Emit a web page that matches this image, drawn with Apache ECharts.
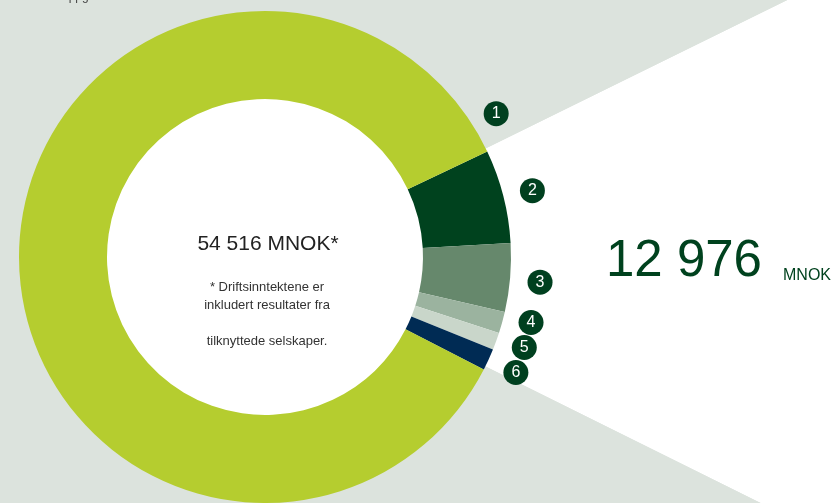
<!DOCTYPE html>
<html><head><meta charset="utf-8">
<script src="https://cdn.jsdelivr.net/npm/echarts@6/dist/echarts.min.js"></script>
<style>html,body{margin:0;padding:0;background:#dce3dd;overflow:hidden}#c{width:837px;height:503px}</style>
</head><body><div id="c"></div>
<script>
// Data (values in MNOK, estimated from the drawn angles)
const segmentNumbers = ['2', '3', '4', '5', '6', '1'];
const segmentValues = [3350, 2450, 770, 620, 775, 46550];
const segmentColors = ['#00421e', '#66886c', '#9bb39f', '#c9d6ca', '#002b54', '#b5cd2f'];
const totalLabel = '54 516 MNOK*';
const noteLines = ['* Driftsinntektene er', 'inkludert resultater fra', '', 'tilknyttede selskaper.'];
const highlightValue = '12 976';
const highlightUnit = 'MNOK';
const topNote = 'Alle tall er oppgitt i MNOK';

const BG = '#dce3dd';
const CX = 265, CY = 257, R0 = 158, R1 = 246, START = 25.4;
const FONT = '"Liberation Sans", Arial, sans-serif';

const greenIdx = segmentValues.length - 1;
const otherSum = segmentValues.slice(0, greenIdx).reduce((a, b) => a + b, 0);

const chart = echarts.init(document.getElementById('c'), null, { renderer: 'canvas' });
chart.setOption({
  backgroundColor: BG,
  animation: false,
  series: [
    { // radial white wedge behind the small segments
      type: 'pie', silent: true, center: [CX, CY], radius: [0, 1500], startAngle: START + 0.8,
      label: { show: false }, labelLine: { show: false },
      data: [
        { value: otherSum, itemStyle: { color: '#ffffff' } },
        { value: segmentValues[greenIdx], itemStyle: { color: BG } }
      ]
    },
    { // white hole
      type: 'pie', silent: true, center: [CX, CY], radius: [0, R0 + 1], startAngle: START,
      label: { show: false }, labelLine: { show: false },
      data: [{ value: 1, itemStyle: { color: '#ffffff' } }]
    },
    { // the ring
      type: 'pie', silent: true, center: [CX, CY], radius: [R0, R1], startAngle: START,
      avoidLabelOverlap: false,
      label: { show: false }, labelLine: { show: false },
      itemStyle: { borderWidth: 0 },
      data: segmentValues.map((v, i) => ({ value: v, name: segmentNumbers[i], itemStyle: { color: segmentColors[i] } }))
    },
    { // number badges
      type: 'pie', silent: true, center: [CX, CY], radius: [261, 285], startAngle: START,
      avoidLabelOverlap: false,
      itemStyle: { color: 'rgba(0,0,0,0)' },
      labelLine: { show: false },
      label: {
        show: true, position: 'inside', rotate: 0,
        formatter: p => '{b|' + p.name + '}',
        rich: {
          b: {
            backgroundColor: '#00401f', color: '#ffffff', width: 25, height: 25, lineHeight: 25,
            borderRadius: 12.5, align: 'center', fontFamily: FONT, fontSize: 16
          }
        }
      },
      labelLayout: function (p) {
        if (p.dataIndex === greenIdx) {
          const a = (START + 6.4) * Math.PI / 180;
          return { x: CX + 272 * Math.cos(a), y: CY - 272 * Math.sin(a) };
        }
        if (p.dataIndex >= 2) return { moveOverlap: 'shiftY', dy: -8 };
        return { moveOverlap: 'shiftY', dy: 2 };
      },
      data: segmentValues.map((v, i) => ({ value: v, name: segmentNumbers[i] }))
    }
  ],
  graphic: [
    { type: 'text', z: 100, left: 6, top: -9, style: { text: topNote, font: '12px ' + FONT, fill: '#444' } },
    { type: 'text', z: 100, x: 268, y: 255, style: { text: totalLabel, font: '21px ' + FONT, fill: '#222', textAlign: 'center', textVerticalAlign: 'bottom' } },
    { type: 'text', z: 100, x: 267, y: 278, style: { text: noteLines.join('\n'), font: '13px ' + FONT, fill: '#333', textAlign: 'center', lineHeight: 18 } },
    { type: 'text', z: 100, x: 606, y: 287, style: { text: highlightValue, font: '51px ' + FONT, fill: '#00421e', textAlign: 'left', textVerticalAlign: 'bottom' } },
    { type: 'text', z: 100, x: 783, y: 284, style: { text: highlightUnit, font: '16px ' + FONT, fill: '#00421e', textAlign: 'left', textVerticalAlign: 'bottom' } }
  ]
});
</script></body></html>
